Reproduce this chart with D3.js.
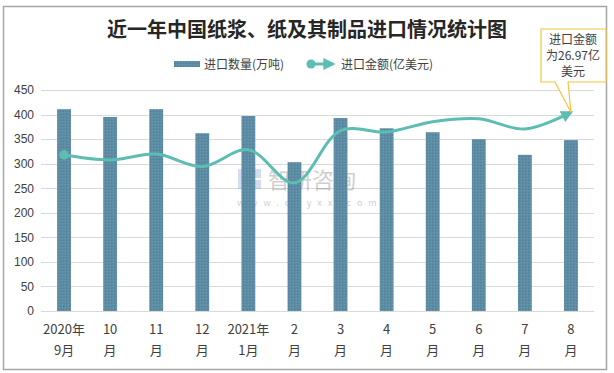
<!DOCTYPE html>
<html>
<head>
<meta charset="utf-8">
<script src="https://cdn.jsdelivr.net/npm/d3@7"></script>
<style>
  body { margin: 0; background: #fff; }
  text { font-family: "Noto Sans CJK SC", "Microsoft YaHei", sans-serif; }
</style>
</head>
<body>
<script>
// data
var months = ["2020年9月", "10月", "11月", "12月", "2021年1月", "2月", "3月", "4月", "5月", "6月", "7月", "8月"];
var labelTop = ["2020年", "10", "11", "12", "2021年", "2", "3", "4", "5", "6", "7", "8"];
var labelBottom = ["9月", "月", "月", "月", "1月", "月", "月", "月", "月", "月", "月", "月"];
var volume = [411, 395, 411, 362, 397, 303, 393, 372, 364, 350, 318, 348];       // 万吨
var amount = [21.2, 20.5, 21.3, 19.6, 21.9, 17.4, 24.5, 24.3, 25.7, 26.1, 24.7, 26.97]; // 亿美元
var yTicks = [0, 50, 100, 150, 200, 250, 300, 350, 400, 450];

var W = 614, H = 373;
var svg = d3.select("body").append("svg")
  .attr("width", W)
  .attr("height", H)

var defs = svg.append("defs")
var pat = defs.append("pattern").attr("id", "dots")
  .attr("width", 3).attr("height", 3).attr("patternUnits", "userSpaceOnUse")
pat.append("rect").attr("width", 3).attr("height", 3).attr("fill", "#5d8da4")
pat.append("rect").attr("x", 0).attr("y", 0).attr("width", 1).attr("height", 1).attr("fill", "#527f96")
pat.append("rect").attr("x", 2).attr("y", 1).attr("width", 1).attr("height", 1).attr("fill", "#6a98ad")

defs.append("marker").attr("id", "arrow")
  .attr("viewBox", "0 0 10 10").attr("refX", 8).attr("refY", 5)
  .attr("markerWidth", 4).attr("markerHeight", 4)
  .attr("orient", "auto").attr("markerUnits", "strokeWidth")
  .append("path").attr("d", "M0,0 L10,5 L0,10 z").attr("fill", "#5cbdb2")

// outer frame
svg.append("rect").attr("x", 3.5).attr("y", 6.5).attr("width", 603).attr("height", 363)
  .attr("fill", "#fff").attr("stroke", "#a6a6a6").attr("stroke-width", 1.5)

var x = d3.scaleBand().domain(months).range([41, 594]).paddingInner(0.7).paddingOuter(0.35)
var y = d3.scaleLinear().domain([0, 450]).range([311, 90])
var y2 = d3.scaleLinear().domain([0, 30]).range([311, 90])

// grid
svg.append("g").selectAll("line").data(yTicks).join("line")
  .attr("x1", 41).attr("x2", 594)
  .attr("y1", d => Math.round(y(d)) + 0.5).attr("y2", d => Math.round(y(d)) + 0.5)
  .attr("stroke", "#d9d9d9").attr("stroke-width", 1)

// y axis labels
var yAxis = svg.append("g").attr("transform", "translate(34,0)")
  .call(d3.axisLeft(y).tickValues(yTicks).tickSize(0).tickPadding(0))
yAxis.select(".domain").remove()
yAxis.selectAll("text").attr("font-size", 12).attr("fill", "#404040")
  .style("font-family", "'Liberation Sans', Arial, sans-serif")

// watermark
var wm = svg.append("g").attr("opacity", 0.35)
wm.append("rect").attr("x", 238).attr("y", 169).attr("width", 9).attr("height", 20).attr("fill", "#7fa3d4")
wm.append("rect").attr("x", 249).attr("y", 169).attr("width", 12).attr("height", 9).attr("fill", "#7fa3d4")
wm.append("rect").attr("x", 249).attr("y", 180).attr("width", 12).attr("height", 9).attr("fill", "#7fa3d4")
wm.append("text").attr("x", 268).attr("y", 188).attr("font-size", 22).attr("fill", "#777").text("智研咨询")
wm.append("text").attr("x", 237).attr("y", 206).attr("font-size", 9).attr("fill", "#777")
  .attr("letter-spacing", 6).text("www.chyxx.com")

// bars
svg.append("g").selectAll("rect").data(volume).join("rect")
  .attr("x", (d, i) => x(months[i]))
  .attr("width", x.bandwidth())
  .attr("y", d => y(d))
  .attr("height", d => y(0) - y(d))
  .attr("fill", "url(#dots)")

// x axis line
svg.append("line").attr("x1", 41).attr("x2", 594).attr("y1", 311.5).attr("y2", 311.5)
  .attr("stroke", "#d9d9d9")

// x labels
var xl = svg.append("g").selectAll("text").data(months).join("text")
  .attr("x", d => x(d) + x.bandwidth() / 2)
  .attr("text-anchor", "middle").attr("font-size", 13).attr("fill", "#404040")
xl.append("tspan").attr("x", d => x(d) + x.bandwidth() / 2).attr("y", 334)
  .text((d, i) => labelTop[i])
xl.append("tspan").attr("x", d => x(d) + x.bandwidth() / 2).attr("y", 355)
  .text((d, i) => labelBottom[i])

// line
var line = d3.line()
  .x((d, i) => x(months[i]) + x.bandwidth() / 2)
  .y(d => y2(d))
  .curve(d3.curveCatmullRom.alpha(0.5))
svg.append("path").datum(amount)
  .attr("d", line)
  .attr("fill", "none").attr("stroke", "#5cbdb2").attr("stroke-width", 3)
  .attr("marker-end", "url(#arrow)")
svg.append("circle")
  .attr("cx", x(months[0]) + x.bandwidth() / 2).attr("cy", y2(amount[0]))
  .attr("r", 4.8).attr("fill", "#5cbdb2")

// callout
var tipX = x(months[11]) + x.bandwidth() / 2, tipY = y2(amount[11]);
svg.append("path")
  .attr("d", "M541,29 H606 V82 H568 L" + tipX + "," + tipY + " L555,82 H541 Z")
  .attr("fill", "#fff").attr("stroke", "#f5c342").attr("stroke-width", 1.2)
svg.append("g").selectAll("text").data(["进口金额", "为26.97亿", "美元"]).join("text")
  .attr("x", 573).attr("y", (d, i) => 44 + i * 16)
  .attr("text-anchor", "middle").attr("font-size", 12).attr("fill", "#404040")
  .text(d => d)

// title
svg.append("text").attr("x", 307).attr("y", 37).attr("text-anchor", "middle")
  .attr("font-size", 20).attr("font-weight", "bold").attr("fill", "#262626")
  .text("近一年中国纸浆、纸及其制品进口情况统计图")

// legend
var lg = svg.append("g")
lg.append("rect").attr("x", 174).attr("y", 61).attr("width", 26).attr("height", 6).attr("fill", "url(#dots)")
lg.append("text").attr("x", 204).attr("y", 68.5).attr("font-size", 12).attr("fill", "#404040").text("进口数量(万吨)")
lg.append("line").attr("x1", 311).attr("x2", 333).attr("y1", 64).attr("y2", 64)
  .attr("stroke", "#5cbdb2").attr("stroke-width", 3).attr("marker-end", "url(#arrow)")
lg.append("circle").attr("cx", 311).attr("cy", 64).attr("r", 4.5).attr("fill", "#5cbdb2")
lg.append("text").attr("x", 341).attr("y", 68.5).attr("font-size", 12).attr("fill", "#404040").text("进口金额(亿美元)")
</script>
</body>
</html>
